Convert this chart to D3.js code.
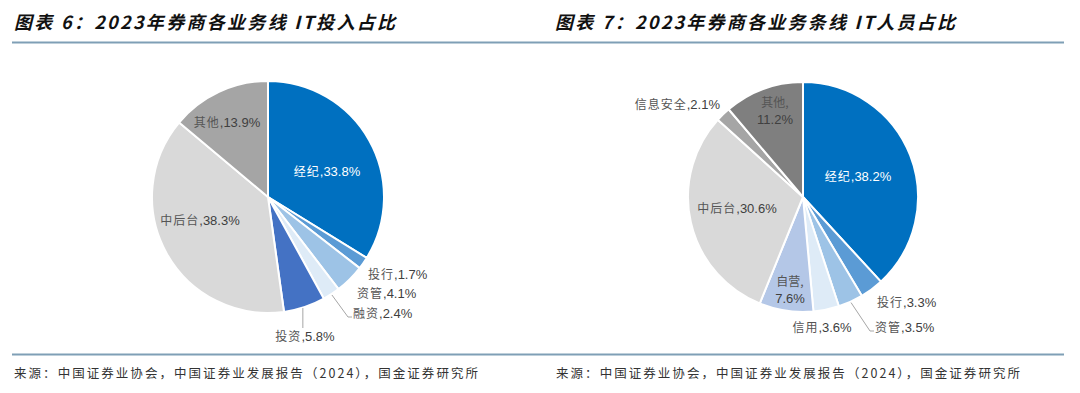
<!DOCTYPE html>
<html>
<head>
<meta charset="utf-8">
<script src="https://cdn.jsdelivr.net/npm/d3@7"></script>
<style>
  html, body { margin: 0; padding: 0; background: #fff; }
  svg { display: block; }
</style>
</head>
<body>
<svg width="1080" height="393"></svg>
<script>
const width = 1080;
const height = 393;

// chart 6: IT investment share by business line
const investTitle = "图表 6：2023年券商各业务线 IT投入占比";
const investCats = ["经纪", "投行", "资管", "融资", "投资", "中后台", "其他"];
const investValues = [33.8, 1.7, 4.1, 2.4, 5.8, 38.3, 13.9];
const investColors = ["#0070c0", "#5b9bd5", "#9dc3e6", "#deebf7", "#4472c4", "#d9d9d9", "#a5a5a5"];

// chart 7: IT staff share by business line
const staffTitle = "图表 7：2023年券商各业务条线 IT人员占比";
const staffCats = ["经纪", "投行", "资管", "信用", "自营", "中后台", "信息安全", "其他"];
const staffValues = [38.2, 3.3, 3.5, 3.6, 7.6, 30.6, 2.1, 11.2];
const staffColors = ["#0070c0", "#5b9bd5", "#9dc3e6", "#deebf7", "#b4c7e7", "#d9d9d9", "#a5a5a5", "#7f7f7f"];

const sourceText = "来源：中国证券业协会，中国证券业发展报告（2024），国金证券研究所";

// label placement relative to pie centre (layout only)
const investLabelLayout = [
    { dx: 59, dy: -26, anchor: "middle", white: true },
    { dx: 100, dy: 77, anchor: "start" },
    { dx: 89, dy: 96, anchor: "start" },
    { dx: 85, dy: 116, anchor: "start", leader: "elbow" },
    { dx: 37, dy: 139, anchor: "middle", leader: "down" },
    { dx: -68, dy: 23, anchor: "middle" },
    { dx: -41, dy: -75, anchor: "middle" },
];
const staffLabelLayout = [
    { dx: 55, dy: -21, anchor: "middle", white: true },
    { dx: 74, dy: 105, anchor: "start" },
    { dx: 72, dy: 130, anchor: "start", leader: "elbow" },
    { dx: 19, dy: 130, anchor: "middle" },
    { dx: -13, dy: 85, anchor: "middle", twoLine: true },
    { dx: -66, dy: 11, anchor: "middle" },
    { dx: -83, dy: -93, anchor: "end" },
    { dx: -28, dy: -94, anchor: "middle", twoLine: true },
];

const svg = d3.select("svg");
const cjk = "'Noto Sans CJK SC', sans-serif";
const latin = "'Liberation Sans', Arial, sans-serif";

// header / footer rules
svg.append("line")
    .attr("x1", 12).attr("x2", 1064)
    .attr("y1", 42.5).attr("y2", 42.5)
    .attr("stroke", "#7f9fb6").attr("stroke-width", 2);
svg.append("line")
    .attr("x1", 12).attr("x2", 1064)
    .attr("y1", 354.5).attr("y2", 354.5)
    .attr("stroke", "#7f9fb6").attr("stroke-width", 2);

const drawTitle = (x, text, len) => {
    svg.append("text")
        .attr("x", x).attr("y", 29)
        .attr("font-family", cjk)
        .attr("font-size", 18)
        .attr("font-weight", "bold")
        .attr("font-style", "italic")
        .attr("fill", "#111")
        .attr("textLength", len)
        .attr("lengthAdjust", "spacing")
        .text(text);
};
drawTitle(14, investTitle, 381);
drawTitle(555, staffTitle, 400);

const drawSource = (x) => {
    svg.append("text")
        .attr("x", x).attr("y", 378)
        .attr("font-family", cjk)
        .attr("font-size", 12.5)
        .attr("fill", "#333")
        .attr("textLength", 464)
        .attr("lengthAdjust", "spacing")
        .text(sourceText);
};
drawSource(14);
drawSource(556);

const drawPie = (cx, cy, radius, cats, values, colors, layout) => {
    const g = svg.append("g").attr("transform", `translate(${cx}, ${cy})`);
    const pie = d3.pie().sort(null).value((d) => d.value);
    const data = cats.map((c, i) => ({ cat: c, value: values[i], color: colors[i] }));
    const arcs = pie(data);
    const arc = d3.arc().innerRadius(0).outerRadius(radius);

    g.selectAll("path.slice")
        .data(arcs)
        .enter()
        .append("path")
        .attr("class", "slice")
        .attr("d", arc)
        .attr("fill", (d) => d.data.color)
        .attr("stroke", "#fff")
        .attr("stroke-width", 2)
        .attr("stroke-linejoin", "round");

    arcs.forEach((a, i) => {
        const l = layout[i];
        const fill = l.white ? "#fff" : "#404040";
        const cfill = l.white ? "#fff" : "#555";
        const mid = (a.startAngle + a.endAngle) / 2;
        const ex = Math.sin(mid) * (radius + 1);
        const ey = -Math.cos(mid) * (radius + 1);

        if (l.leader === "elbow") {
            g.append("path")
                .attr("d", `M${ex},${ey}L${l.dx - 5},${l.dy + 4}L${l.dx - 1},${l.dy + 4}`)
                .attr("fill", "none")
                .attr("stroke", "#a6a6a6")
                .attr("stroke-width", 1);
        } else if (l.leader === "down") {
            g.append("path")
                .attr("d", `M${ex - 2},${ey}L${ex - 2},${l.dy - 8}`)
                .attr("fill", "none")
                .attr("stroke", "#a6a6a6")
                .attr("stroke-width", 1);
        }

        const pct = d3.format(".1f")(a.data.value) + "%";
        if (l.twoLine) {
            const t = g.append("text")
                .attr("text-anchor", l.anchor)
                .attr("font-size", 13);
            t.append("tspan")
                .attr("x", l.dx).attr("y", l.dy + 4)
                .attr("font-family", cjk).attr("font-size", 12).attr("fill", cfill)
                .text(a.data.cat + ",");
            t.append("tspan")
                .attr("x", l.dx).attr("y", l.dy + 21)
                .attr("font-family", latin).attr("fill", fill)
                .text(pct);
        } else {
            const t = g.append("text")
                .attr("x", l.dx).attr("y", l.dy + 5)
                .attr("text-anchor", l.anchor)
                .attr("font-size", 13);
            t.append("tspan")
                .attr("font-family", cjk).attr("font-size", 12).attr("fill", cfill)
                .attr("letter-spacing", 1)
                .text(a.data.cat);
            t.append("tspan")
                .attr("font-family", latin).attr("fill", fill)
                .text("," + pct);
        }
    });
};

drawPie(268, 197, 116, investCats, investValues, investColors, investLabelLayout);
drawPie(803, 197, 115, staffCats, staffValues, staffColors, staffLabelLayout);
</script>
</body>
</html>
